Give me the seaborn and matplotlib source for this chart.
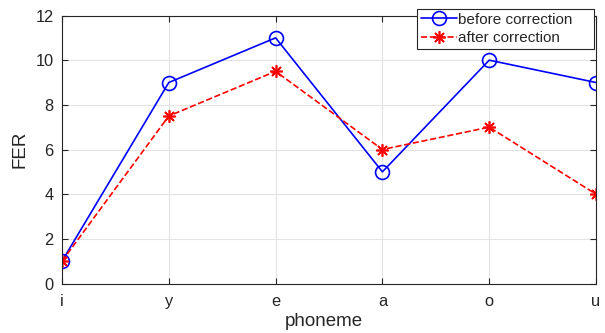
import matplotlib
matplotlib.use("Agg")
import matplotlib.pyplot as plt
import seaborn as sns
import pandas as pd

phonemes = ["i", "y", "e", "a", "o", "u"]
before = [1, 9, 11, 5, 10, 9]
after = [1, 7.5, 9.5, 6, 7, 4]
yticks = [0, 2, 4, 6, 8, 10, 12]

sns.set_style("ticks")
plt.rcParams['font.family'] = ['Liberation Sans', 'DejaVu Sans']

fig = plt.figure(figsize=(6.05, 3.33), dpi=100)
ax = fig.add_axes([62/605, 1-283.5/333, (596-62)/605, (283.5-15.5)/333])

pos = list(range(len(phonemes)))
df = pd.DataFrame({"pos": pos, "before": before, "after": after})

sns.lineplot(data=df, x="pos", y="before", ax=ax, color="#0000ff", lw=1.2,
             marker="o", markersize=10, markerfacecolor="none",
             markeredgecolor="#0000ff", markeredgewidth=1.2,
             label="before correction")
sns.lineplot(data=df, x="pos", y="after", ax=ax, color="#ff0000", lw=1.2,
             linestyle="--", marker=(8, 2, 0), markersize=9,
             markeredgecolor="#ff0000", markeredgewidth=1.2,
             label="after correction")

ax.set_xlim(0, len(phonemes)-1)
ax.set_ylim(0, 12)
ax.set_xticks(pos)
ax.set_xticklabels(phonemes)
ax.set_yticks(yticks)
ax.tick_params(direction="in", length=4, labelsize=11.8, colors="#262626",
               top=True, right=True, labeltop=False, labelright=False)
ax.tick_params(axis="x", pad=7.5)
ax.tick_params(axis="y", pad=6)
ax.grid(True, color="#e3e3e3", lw=0.8)
ax.set_axisbelow(True)
for s in ax.spines.values():
    s.set_color("#262626")
    s.set_linewidth(0.8)
ax.set_xlabel("phoneme", fontsize=13.5, color="#262626")
ax.xaxis.set_label_coords((323.5-62)/534, -(313.5-283.5)/268)
ax.set_ylabel("FER", fontsize=13.5, color="#262626", labelpad=5)

x0, x1, y1, y0 = 417/605, 594/605, 1-9/333, 1-51/333
leg = ax.legend(loc="upper left", bbox_to_anchor=(x0, y0, x1-x0, y1-y0),
                bbox_transform=fig.transFigure, borderaxespad=0, mode="expand",
                fontsize=11, frameon=True, fancybox=False, framealpha=1,
                edgecolor="#262626", handlelength=2.35, handletextpad=0.1,
                borderpad=0.25, labelspacing=0.3)
leg.get_frame().set_linewidth(0.8)

fig.savefig("out.png", dpi=100)
